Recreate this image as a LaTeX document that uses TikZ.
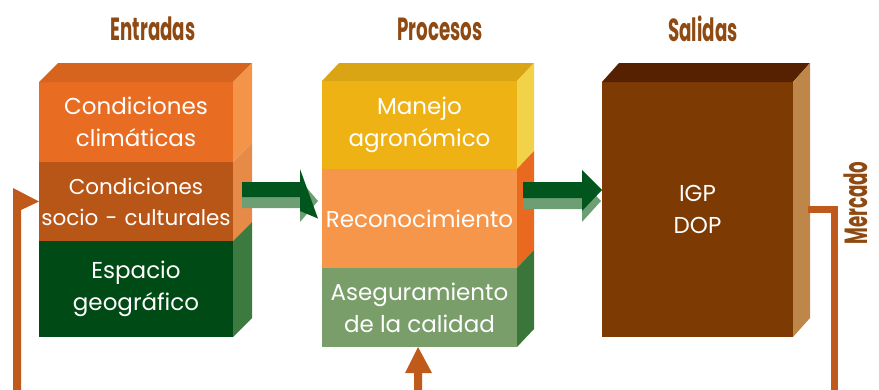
\documentclass[tikz,border=0pt]{standalone}
\usepackage{fontspec}
\setmainfont{Poppins}
\usetikzlibrary{calc}
\definecolor{ttl}{HTML}{8E4A12}
\definecolor{aTop}{HTML}{D6641E}
\definecolor{aF1}{HTML}{E86C22}
\definecolor{aR1}{HTML}{F39449}
\definecolor{aF2}{HTML}{B85618}
\definecolor{aR2}{HTML}{E68A47}
\definecolor{aF3}{HTML}{004A16}
\definecolor{aR3}{HTML}{3D7A3F}
\definecolor{bTop}{HTML}{D9A514}
\definecolor{bF1}{HTML}{EFB214}
\definecolor{bR1}{HTML}{F1D249}
\definecolor{bF2}{HTML}{F6964A}
\definecolor{bR2}{HTML}{E8691F}
\definecolor{bF3}{HTML}{7A9E6A}
\definecolor{bR3}{HTML}{3A7639}
\definecolor{cTop}{HTML}{562100}
\definecolor{cF}{HTML}{7D3A02}
\definecolor{cR}{HTML}{BE8648}
\definecolor{arDark}{HTML}{00561D}
\definecolor{arLight}{HTML}{6E9F74}
\definecolor{fbc}{HTML}{BF5A1A}
\newcommand\sideface[4]{\fill[#2] (#1.north east) -- ++(#3,-#4) -- ($(#1.south east)+(#3,-#4)$) -- (#1.south east) -- cycle;}
\newcommand\topface[4]{\fill[#2] (#1.north west) -- ++(#3,-#4) -- ($(#1.north east)+(#3,-#4)$) -- (#1.north east) -- cycle;}
\begin{document}
\begin{tikzpicture}[x=1pt,y=-1pt,
  face/.style={draw=none, inner sep=0pt, outer sep=0pt, text=white, align=center,
    font=\fontsize{23}{32}\selectfont},
  title/.style={text=ttl, inner sep=0pt, font=\fontsize{32}{32}\selectfont\bfseries},
  fb/.style={draw=fbc, line width=7pt, miter limit=10},
]
\useasboundingbox (0,0) rectangle (879,389);
\clip (0,0) rectangle (879,389);

% titles
\node[title] (t1) at (153,29) {\scalebox{0.57}[1]{Entradas}};
\node[title] (t2) at (440,29) {\scalebox{0.57}[1]{Procesos}};
\node[title] (t3) at (703,29) {\scalebox{0.57}[1]{Salidas}};
\node[title, rotate=90, anchor=base] (mk) at (867,203) {\scalebox{0.57}[1]{Mercado}};

% box 1
\node[face, fill=aF1, minimum width=194, minimum height=80] (cc) at (136,122) {Condiciones\\climáticas};
\node[face, fill=aF2, minimum width=194, minimum height=79, text width=194,
  font=\fontsize{21.5}{31}\selectfont] (cs) at (136,201.5) {Condiciones\\socio - culturales};
\node[face, fill=aF3, minimum width=194, minimum height=96] (eg) at (136,289) {Espacio\\geográfico};
\topface{cc}{aTop}{19}{19}
\sideface{cc}{aR1}{19}{19}
\sideface{cs}{aR2}{19}{19}
\sideface{eg}{aR3}{19}{19}

% box 2
\node[face, fill=bF1, minimum width=195, minimum height=88] (mj) at (419.5,125) {Manejo\\agronómico};
\node[face, fill=bF2, minimum width=195, minimum height=99] (rc) at (419.5,218.5) {Reconocimiento};
\node[face, fill=bF3, minimum width=195, minimum height=79] (ac) at (419.5,307.5) {Aseguramiento\\de la calidad};
\topface{mj}{bTop}{17}{18}
\sideface{mj}{bR1}{17}{18}
\sideface{rc}{bR2}{17}{18}
\sideface{ac}{bR3}{17}{18}

% box 3
\node[face, fill=cF, minimum width=191, minimum height=255] (ig) at (697.5,209.5) {IGP\\DOP};
\topface{ig}{cTop}{17}{19}
\sideface{ig}{cR}{17}{19}

% block arrows
\fill[arLight] (242,193) -- (300,193) -- (300,180) -- (318,201) -- (300,222) -- (300,208) -- (242,208) -- cycle;
\fill[arDark] (242,182) -- (300,182) -- (300,169) -- (rc.west -| 318,190) -- (300,211) -- (300,197) -- (242,197) -- cycle;
\fill[arLight] (523,193) -- (582,193) -- (582,181) -- (601,201) -- (582,222) -- (582,209) -- (523,209) -- cycle;
\fill[arDark] (523,182) -- (582,182) -- (582,170) -- (ig.west |- 0,190) -- (582,211) -- (582,198) -- (523,198) -- cycle;

% feedback lines
\coordinate (bR) at (834,395);
\draw[fb] ($(ig.east)+(15,0)$) -| (bR);
\fill[fbc] (13,395) -- ($(cs.west)+(-26,-13.5)$) -- (cs.west) -- ($(cs.west)+(-18,8.5)$) -- (21,395) -- cycle;
\fill[fbc] (414,395) -- (414,373) -- (405,373) -- (ac.south -| 418,0) -- (432,373) -- (422,373) -- (422,395) -- cycle;
\end{tikzpicture}
\end{document}
